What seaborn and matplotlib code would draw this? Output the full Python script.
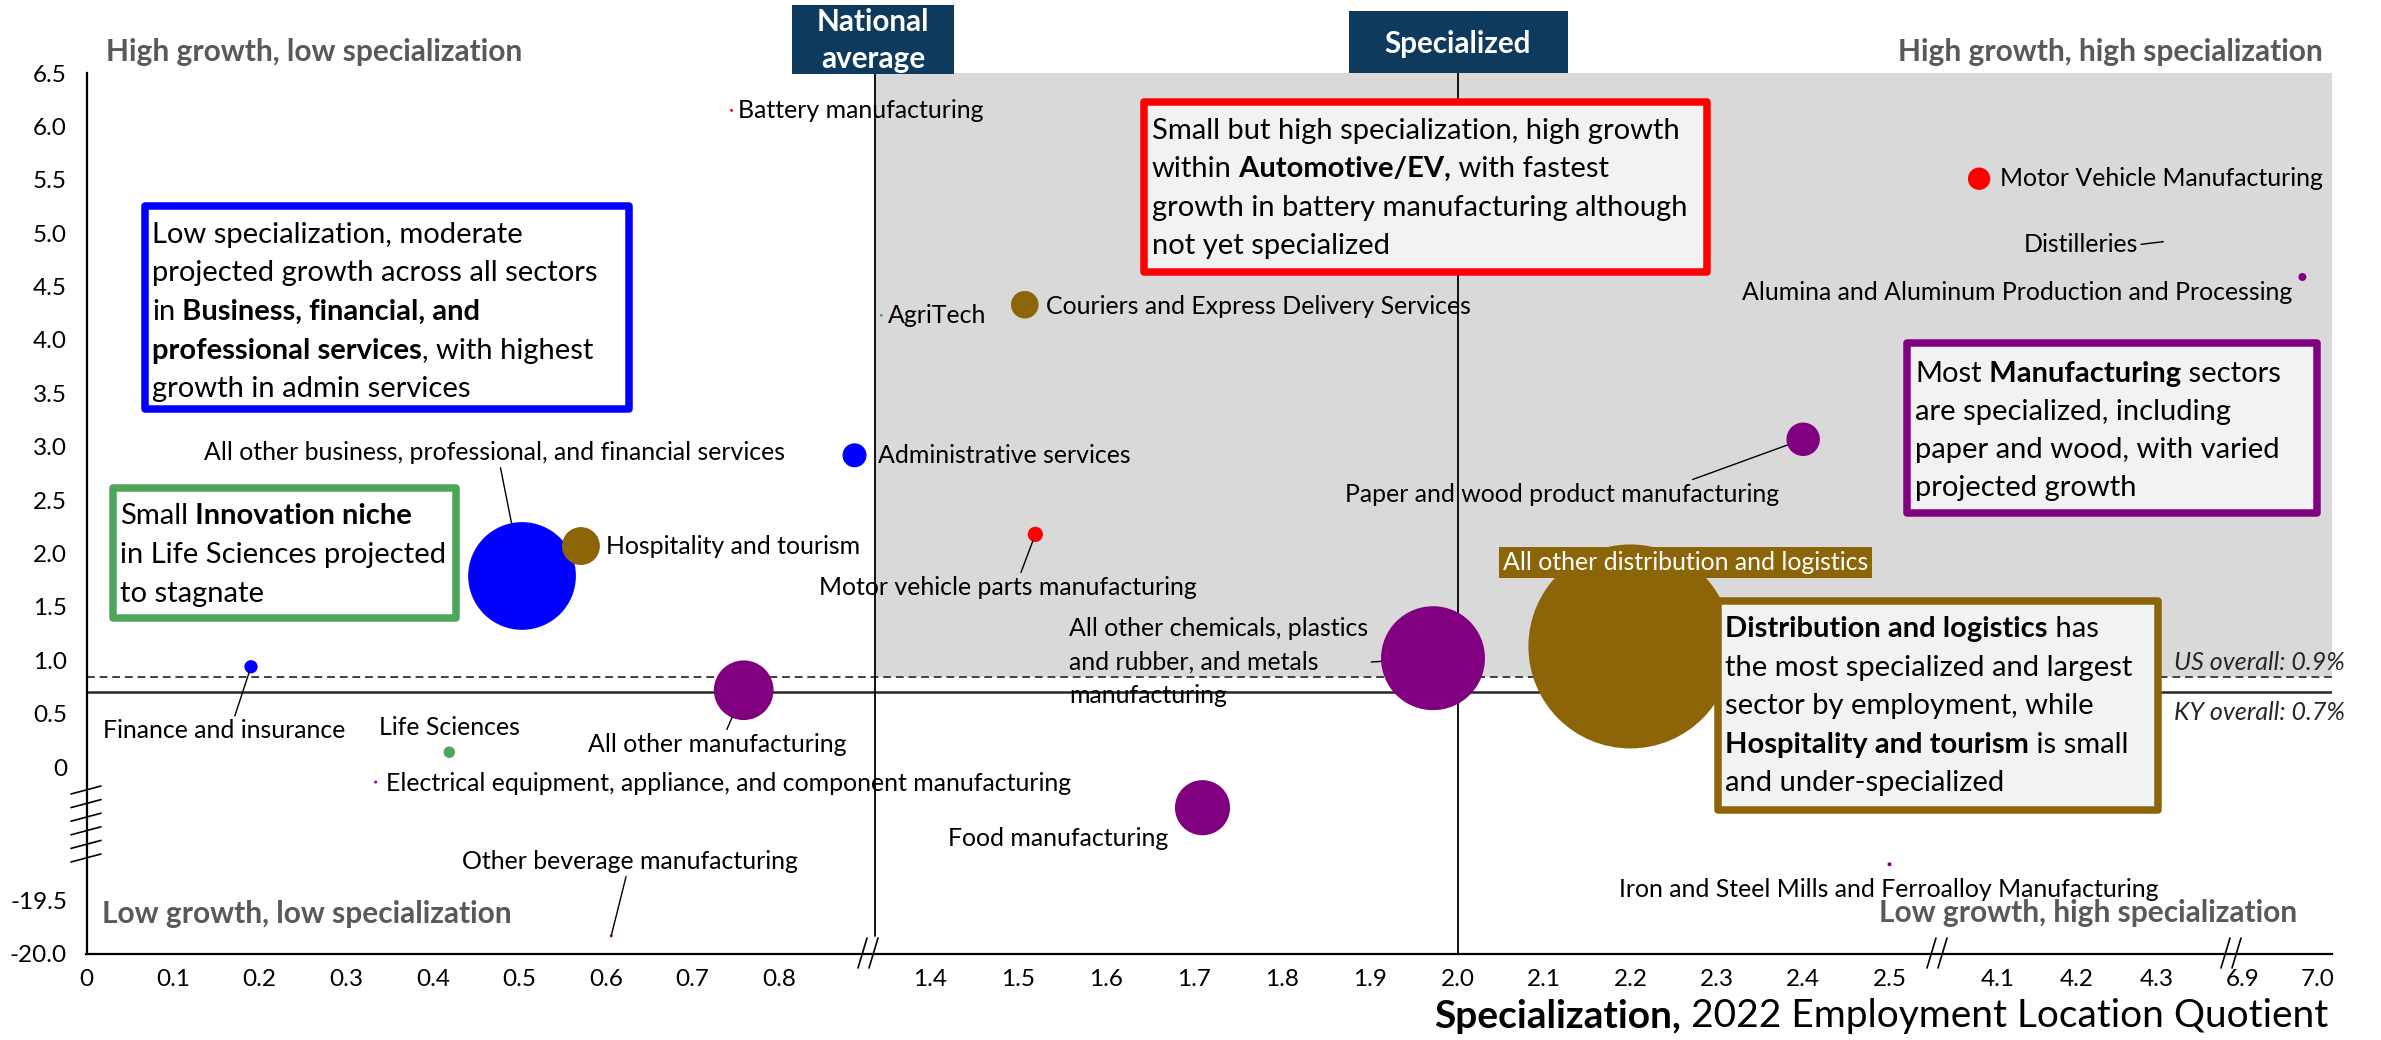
import numpy as np
import pandas as pd
import matplotlib
matplotlib.use("Agg")
import matplotlib.pyplot as plt
import seaborn as sns
from matplotlib.patches import Rectangle
from matplotlib.text import Annotation
from matplotlib.lines import Line2D

# ---------------- data ----------------
sectors = [
    "All other distribution and logistics",
    "All other business, professional, and financial services",
    "All other chemicals, plastics\nand rubber, and metals\nmanufacturing",
    "All other manufacturing",
    "Food manufacturing",
    "Hospitality and tourism",
    "Paper and wood product manufacturing",
    "Couriers and Express Delivery Services",
    "Administrative services",
    "Motor Vehicle Manufacturing",
    "Motor vehicle parts manufacturing",
    "Finance and insurance",
    "Life Sciences",
    "Alumina and Aluminum Production and Processing",
    "Iron and Steel Mills and Ferroalloy Manufacturing",
    "Battery manufacturing",
    "AgriTech",
    "Electrical equipment, appliance, and component manufacturing",
    "Other beverage manufacturing",
    "Distilleries",
]
location_quotient = [2.20, 0.503, 1.972, 0.759, 1.71, 0.571, 2.40, 1.508, 0.887, 4.077,
                     1.520, 0.190, 0.419, 6.98, 2.50, 0.745, 1.345, 0.334, 0.606, 4.308]
projected_growth = [1.13, 1.79, 1.02, 0.72, -0.38, 2.07, 3.07, 4.33, 2.92, 5.51,
                    2.18, 0.94, 0.14, 4.59, -0.91, 6.15, 4.23, -0.14, -19.83, 4.92]
employment = [104000, 29000, 27000, 8900, 7600, 3600, 2800, 1900, 1440, 1250,
              580, 440, 330, 160, 40, 22, 22, 22, 22, 10]
cluster = ["Distribution", "Business", "Manufacturing", "Manufacturing", "Manufacturing",
           "Distribution", "Manufacturing", "Distribution", "Business", "Automotive",
           "Automotive", "Business", "Innovation", "Manufacturing", "Manufacturing",
           "Automotive", "Innovation", "Manufacturing", "Manufacturing", "Manufacturing"]

x_ticks = [0, 0.1, 0.2, 0.3, 0.4, 0.5, 0.6, 0.7, 0.8, 1.4, 1.5, 1.6, 1.7, 1.8, 1.9, 2.0,
           2.1, 2.2, 2.3, 2.4, 2.5, 4.1, 4.2, 4.3, 6.9, 7.0]
x_tick_labels = ["0", "0.1", "0.2", "0.3", "0.4", "0.5", "0.6", "0.7", "0.8", "1.4", "1.5",
                 "1.6", "1.7", "1.8", "1.9", "2.0", "2.1", "2.2", "2.3", "2.4", "2.5",
                 "4.1", "4.2", "4.3", "6.9", "7.0"]
y_ticks = [6.5, 6.0, 5.5, 5.0, 4.5, 4.0, 3.5, 3.0, 2.5, 2.0, 1.5, 1.0, 0.5, 0, -19.5, -20.0]
y_tick_labels = ["6.5", "6.0", "5.5", "5.0", "4.5", "4.0", "3.5", "3.0", "2.5", "2.0",
                 "1.5", "1.0", "0.5", "0", "-19.5", "-20.0"]

national_average = 1.0
specialized_lq = 2.0
us_overall = 0.84
ky_overall = 0.70

# ---------------- styling ----------------
W, H = 2381, 1040
palette = {"Distribution": "#8B6508", "Business": "#0000FF", "Manufacturing": "#800080",
           "Automotive": "#FF0000", "Innovation": "#4EA65B"}
NAVY = "#0E3A5E"
QGRAY = "#595959"
BOXFILL = "#F2F2F2"
LABEL_FS = 17.9
BOX_FS = 21
QUAD_FS = 21.5
HEAD_FS = 21.3
TITLE_FS = 28

sns.set_theme(style="white")
plt.rcParams["font.family"] = ["Lato", "DejaVu Sans"]

fig = plt.figure(figsize=(W / 100, H / 100), dpi=100)
ax = fig.add_axes([86.5 / W, 1 - 954 / H, (2332 - 86.5) / W, (954 - 73) / H])


def fpx(x, y):
    return (x / W, 1 - y / H)


# broken axes as piecewise-linear scales
xr = [-1.0, 0.0, 0.9, 1.0, 1.34, 1.4, 2.0, 2.5, 2.55, 4.03, 4.1, 4.3, 4.385, 6.885, 6.9, 7.0, 8.0]
xd = [-779.5, 86.5, 866, 875, 877, 930, 1458, 1890, 1933, 1942, 1998, 2157, 2224, 2232, 2243, 2318, 3048]
yr = [-30, -20, -19.5, -1.1, 0, 6.5, 20]
yd = [-11.75, -1.75, -1.25, -1.1, 0, 6.5, 20]


def fx(v):
    return np.interp(np.asarray(v, dtype=float), xr, xd)


def ix(v):
    return np.interp(np.asarray(v, dtype=float), xd, xr)


def fy(v):
    return np.interp(np.asarray(v, dtype=float), yr, yd)


def iy(v):
    return np.interp(np.asarray(v, dtype=float), yd, yr)


ax.set_xscale("function", functions=(fx, ix))
ax.set_yscale("function", functions=(fy, iy))

df = pd.DataFrame({"sector": sectors, "lq": location_quotient, "growth": projected_growth,
                   "employment": employment, "cluster": cluster})

S_MAX = (2 * 102 * 0.72) ** 2
sns.scatterplot(data=df, x="lq", y="growth", hue="cluster", palette=palette,
                size="employment", sizes=(0, S_MAX), size_norm=(0, max(employment)),
                linewidth=0, alpha=1, legend=False, ax=ax, zorder=4)

ax.set_xlim(0, 7.02)
ax.set_ylim(-20, 6.5)

# shaded high-growth/high-spec region
ax.add_patch(Rectangle((national_average, us_overall), 7.02 - national_average, 6.5 - us_overall,
                       facecolor="#D9D9D9", edgecolor="none", zorder=0))
ax.axhline(us_overall, color="#404040", lw=1.4, ls=(0, (4, 2.5)), zorder=1)
ax.axhline(ky_overall, color="#262626", lw=1.8, zorder=1)
ax.axvline(national_average, ymin=0.02, ymax=1.0, color="black", lw=1.3, zorder=1)
ax.axvline(specialized_lq, ymin=0, ymax=1.0, color="black", lw=1.3, zorder=1)

# axes styling
for s in ["top", "right"]:
    ax.spines[s].set_visible(False)
for s in ["left", "bottom"]:
    ax.spines[s].set_color("black")
    ax.spines[s].set_linewidth(1.6)
ax.set_xticks(x_ticks)
ax.set_xticklabels(x_tick_labels)
ax.set_yticks(y_ticks)
ax.set_yticklabels(y_tick_labels)
ax.minorticks_off()
ax.tick_params(axis="x", length=0, pad=11, labelsize=17.5, colors="black")
ax.tick_params(axis="y", length=0, pad=14, labelsize=17.5, colors="black")
ax.set_xlabel("")
ax.set_ylabel("")
ax.grid(False)

# point labels: (dx px, dy px, ha, relpos or None, shrinkB px)
label_layout = {
    0: (55, -84, "center", None, 0),
    1: (-28, -123, "center", (0.51, 0), 54),
    2: (-65, 4, "right", (1, 0.5), 52),
    3: (-26, 54, "center", (0.53, 1), 29),
    4: (-34, 31, "right", None, 0),
    5: (25, 0, "left", None, 0),
    6: (-24, 55, "right", (0.78, 1), 17),
    7: (21, 2, "left", None, 0),
    8: (23, 0, "left", None, 0),
    9: (21, 0, "left", None, 0),
    10: (-27, 53, "center", (0.53, 1), 7),
    11: (-27, 64, "center", (0.54, 1), 6),
    12: (0, -25, "center", None, 0),
    13: (-10, 16, "right", None, 0),
    14: (-1, 25, "center", None, 0),
    15: (6, 0, "left", None, 0),
    16: (7, 0, "left", None, 0),
    17: (10, 1, "left", None, 0),
    18: (19, -74, "center", (0.49, 0), 1),
    19: (-25, 3, "right", (1, 0.5), 0),
}
for i, row in df.iterrows():
    dx, dy, ha, relpos, shr = label_layout[i]
    kw = dict(xy=(row.lq, row.growth), xytext=(dx * 0.72, -dy * 0.72), textcoords="offset points",
              ha=ha, va="center", fontsize=LABEL_FS, color="black", zorder=5,
              annotation_clip=False)
    if relpos is not None:
        kw["arrowprops"] = dict(arrowstyle="-", color="black", lw=1.0, relpos=relpos,
                                shrinkA=0, shrinkB=shr * 0.72)
    if i == 0:
        kw["color"] = "white"
        kw["bbox"] = dict(boxstyle="square,pad=0.15", fc=palette["Distribution"], ec="none")
    if "\n" in row.sector:
        kw["multialignment"] = "left"
        kw["linespacing"] = 1.56
    ax.annotate(row.sector, **kw)

# reference-line labels
fig.text(*fpx(2345, 663), "US overall: 0.9%", ha="right", va="center", fontsize=18,
         style="italic", color="#262626")
fig.text(*fpx(2345, 712), "KY overall: 0.7%", ha="right", va="center", fontsize=18,
         style="italic", color="#262626")

# quadrant labels
fig.text(*fpx(106, 61), "High growth, low specialization", ha="left", va="baseline",
         fontsize=QUAD_FS, fontweight="bold", color=QGRAY)
fig.text(*fpx(2323, 61), "High growth, high specialization", ha="right", va="baseline",
         fontsize=QUAD_FS, fontweight="bold", color=QGRAY)
fig.text(*fpx(102, 923), "Low growth, low specialization", ha="left", va="baseline",
         fontsize=QUAD_FS, fontweight="bold", color=QGRAY)
fig.text(*fpx(2297, 922), "Low growth, high specialization", ha="right", va="baseline",
         fontsize=QUAD_FS, fontweight="bold", color=QGRAY)

# header boxes
fig.add_artist(Rectangle(fpx(792, 74), (954 - 792) / W, (74 - 5) / H, transform=fig.transFigure,
                         facecolor=NAVY, edgecolor="none", zorder=2))
fig.text(*fpx(873, 31), "National", ha="center", va="baseline", fontsize=HEAD_FS,
         fontweight="bold", color="white", zorder=3)
fig.text(*fpx(873, 68), "average", ha="center", va="baseline", fontsize=HEAD_FS,
         fontweight="bold", color="white", zorder=3)
fig.add_artist(Rectangle(fpx(1349, 73), (1568 - 1349) / W, (73 - 11) / H, transform=fig.transFigure,
                         facecolor=NAVY, edgecolor="none", zorder=2))
fig.text(*fpx(1458, 53), "Specialized", ha="center", va="baseline", fontsize=HEAD_FS,
         fontweight="bold", color="white", zorder=3)


def rich_line(x, y, segs, size, color="black"):
    s0, b0 = segs[0]
    prev = fig.text(*fpx(x, y), s0, fontsize=size, fontweight="bold" if b0 else "normal",
                    ha="left", va="baseline", color=color, zorder=6)
    for s, b in segs[1:]:
        a = Annotation(s, xy=(1, 0), xycoords=prev, xytext=(0, 0), textcoords="offset points",
                       ha="left", va="bottom", fontsize=size,
                       fontweight="bold" if b else "normal", color=color, zorder=6)
        fig.add_artist(a)
        prev = a


def callout(x0, y0, x1, y1, ec, fc, lines, tx, baselines, size=BOX_FS, lw_px=7.5):
    ins = lw_px / 2
    r = Rectangle(fpx(x0 + ins, y1 - ins), (x1 - x0 - 2 * ins) / W, (y1 - y0 - 2 * ins) / H,
                  transform=fig.transFigure, facecolor=fc, edgecolor=ec, linewidth=lw_px * 0.72,
                  joinstyle="round", zorder=5)
    fig.add_artist(r)
    for segs, yb in zip(lines, baselines):
        rich_line(tx, yb, segs, size)


callout(141, 202, 633, 413, "#0000FF", "white",
        [[("Low specialization, moderate", False)],
         [("projected growth across all sectors", False)],
         [("in", False), (" Business, financial, and", True)],
         [("professional services", True), (", with highest", False)],
         [("growth in admin services", False)]],
        152, [243, 281.5, 320, 358.5, 397])

callout(109, 484, 460, 622, "#4EA65B", "white",
        [[("Small", False), (" Innovation niche", True)],
         [("in Life Sciences projected", False)],
         [("to stagnate", False)]],
        120, [524, 563, 602])

callout(1140, 98, 1711, 276, "#FF0000", BOXFILL,
        [[("Small but high specialization, high growth", False)],
         [("within", False), (" Automotive/EV,", True), (" with fastest", False)],
         [("growth in battery manufacturing although", False)],
         [("not yet specialized", False)]],
        1152, [139, 177, 216, 254])

callout(1903, 339, 2321, 517, "#800080", BOXFILL,
        [[("Most", False), (" Manufacturing", True), (" sectors", False)],
         [("are specialized, including", False)],
         [("paper and wood, with varied", False)],
         [("projected growth", False)]],
        1915, [382, 420, 458, 496])

callout(1714, 597, 2162, 814, "#8B6508", BOXFILL,
        [[("Distribution and logistics", True), (" has", False)],
         [("the most specialized and largest", False)],
         [("sector by employment, while", False)],
         [("Hospitality and tourism", True), (" is small", False)],
         [("and under-specialized", False)]],
        1725, [637, 676, 714, 753, 791])

# axis title
reg = fig.text(*fpx(2328, 1027), " 2022 Employment Location Quotient", ha="right", va="baseline",
               fontsize=TITLE_FS, color="black")
fig.add_artist(Annotation("Specialization,", xy=(0, 0), xycoords=reg, xytext=(0, 0),
                          textcoords="offset points", ha="right", va="bottom", fontsize=TITLE_FS,
                          fontweight="bold", color="black"))

# axis break marks
for cx in [868, 1937, 2231]:
    for off in (-5.5, 5.5):
        fig.add_artist(Line2D([(cx + off - 4.5) / W, (cx + off + 4.5) / W],
                              [1 - 968 / H, 1 - 938 / H], transform=fig.transFigure,
                              color="black", lw=1.2, zorder=3))
for k in range(6):
    yy = 794 + k * 13.6
    fig.add_artist(Line2D([71 / W, 101 / W], [1 - yy / H, 1 - (yy - 8) / H],
                          transform=fig.transFigure, color="black", lw=1.2, zorder=3))

fig.savefig("out.png", dpi=100)
